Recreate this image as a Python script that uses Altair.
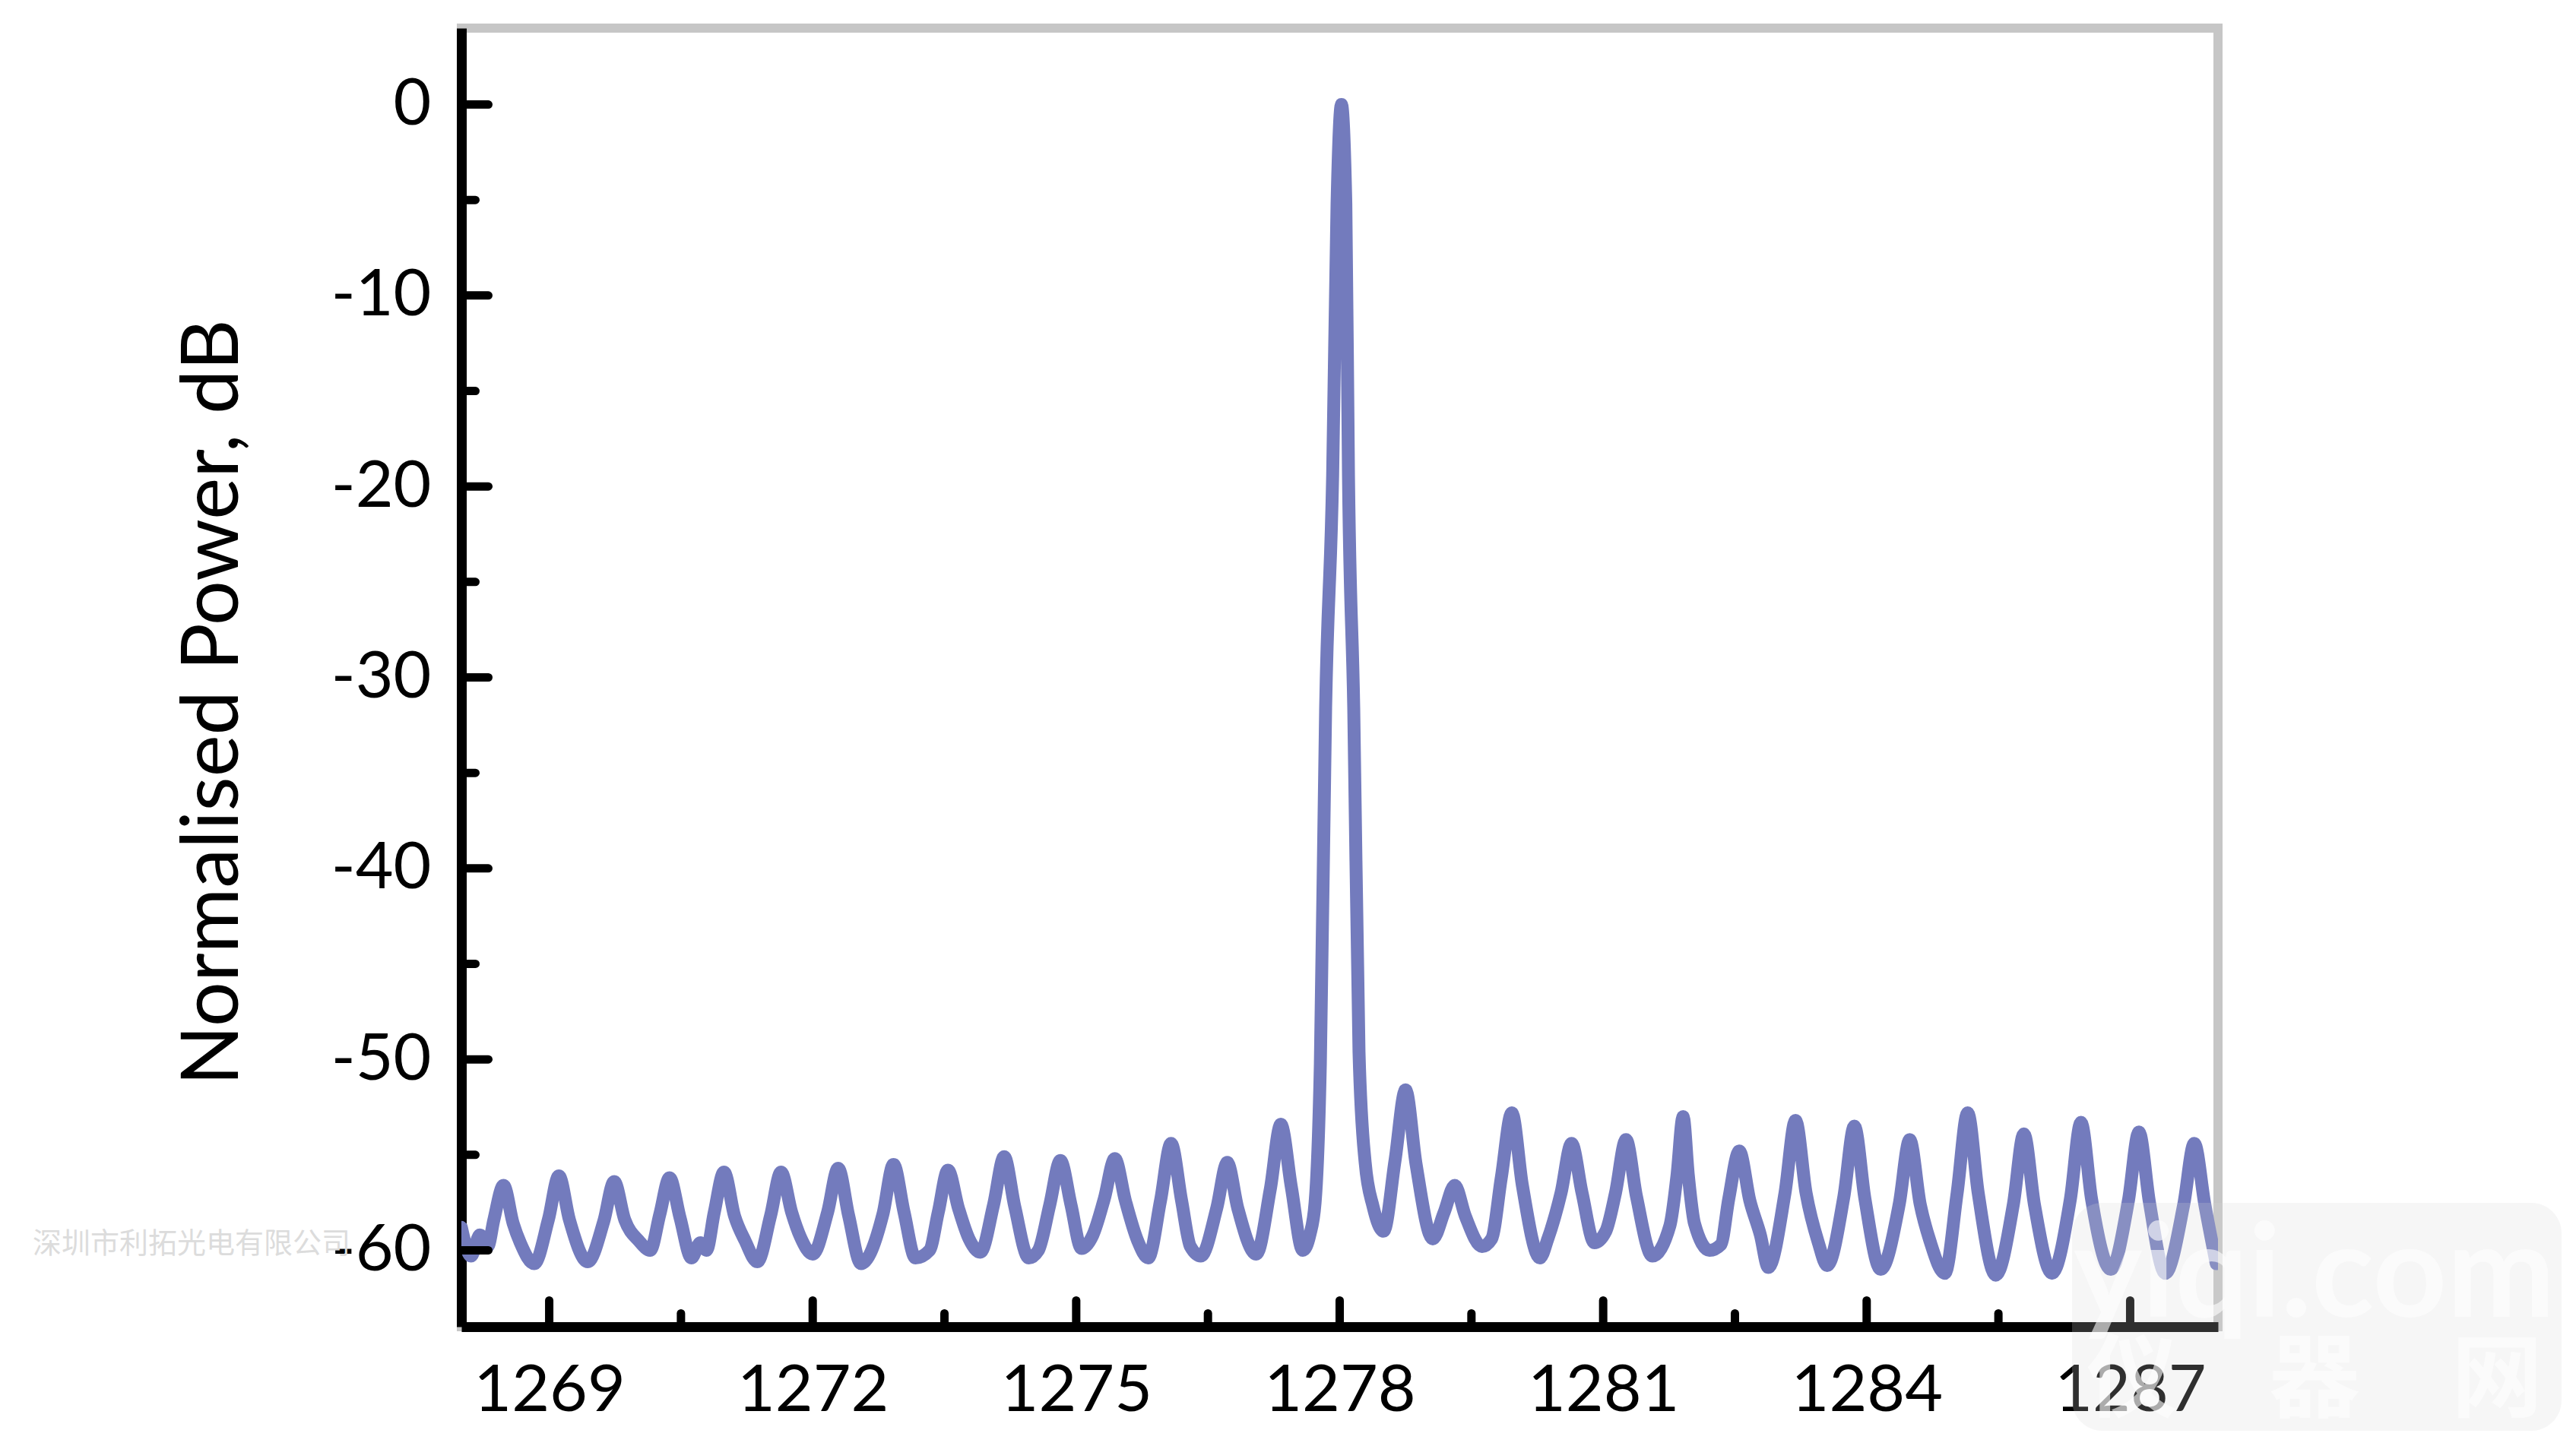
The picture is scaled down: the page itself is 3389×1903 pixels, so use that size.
import altair as alt
import pandas as pd

# ---------------- data ----------------
wavelength = [
    1268.00, 1268.11, 1268.21, 1268.30, 1268.37, 1268.48, 1268.59, 1268.67, 1268.83,
    1268.99, 1269.11, 1269.23, 1269.44, 1269.62, 1269.74, 1269.86, 1270.02, 1270.15,
    1270.26, 1270.37, 1270.49, 1270.62, 1270.72, 1270.79, 1270.88, 1270.99, 1271.11,
    1271.23, 1271.37, 1271.52, 1271.64, 1271.76, 1271.86, 1272.00, 1272.17, 1272.29,
    1272.41, 1272.55, 1272.80, 1272.92, 1273.04, 1273.17, 1273.33, 1273.43, 1273.54,
    1273.66, 1273.78, 1273.91, 1274.06, 1274.18, 1274.30, 1274.46, 1274.57, 1274.70,
    1274.82, 1274.94, 1275.06, 1275.19, 1275.32, 1275.44, 1275.56, 1275.70, 1275.82,
    1275.96, 1276.08, 1276.20, 1276.30, 1276.42, 1276.60, 1276.72, 1276.84, 1277.05,
    1277.21, 1277.33, 1277.45, 1277.58, 1277.66, 1277.72, 1277.78, 1277.84, 1277.92,
    1277.97, 1278.02, 1278.07, 1278.10, 1278.16, 1278.22, 1278.29, 1278.38, 1278.50,
    1278.63, 1278.75, 1278.87, 1279.06, 1279.19, 1279.31, 1279.43, 1279.62, 1279.73,
    1279.84, 1279.96, 1280.08, 1280.28, 1280.37, 1280.52, 1280.64, 1280.76, 1280.90,
    1281.03, 1281.14, 1281.26, 1281.38, 1281.56, 1281.76, 1281.84, 1281.91, 1281.97,
    1282.04, 1282.21, 1282.34, 1282.43, 1282.55, 1282.67, 1282.79, 1282.88, 1283.07,
    1283.19, 1283.31, 1283.45, 1283.55, 1283.74, 1283.86, 1283.98, 1284.16, 1284.37,
    1284.49, 1284.61, 1284.72, 1284.89, 1285.03, 1285.15, 1285.27, 1285.47, 1285.67,
    1285.79, 1285.91, 1286.11, 1286.32, 1286.44, 1286.56, 1286.78, 1286.98, 1287.10,
    1287.22, 1287.40, 1287.61, 1287.73, 1287.85, 1287.98,
]
power = [
    -58.8, -60.3, -59.2, -59.8, -58.4, -56.6, -58.6, -59.6, -60.7,
    -58.4, -56.1, -58.4, -60.6, -58.5, -56.4, -58.4, -59.5, -60.0,
    -58.1, -56.2, -58.3, -60.4, -59.6, -60.0, -58.0, -55.9, -58.2,
    -59.5, -60.6, -58.2, -55.9, -58.0, -59.3, -60.2, -58.0, -55.7,
    -58.2, -60.7, -58.1, -55.5, -58.0, -60.4, -60.0, -58.0, -55.8,
    -57.8, -59.4, -60.1, -57.6, -55.1, -57.7, -60.4, -60.0, -57.6,
    -55.3, -57.6, -59.9, -59.2, -57.3, -55.2, -57.4, -59.5, -60.4,
    -57.4, -54.4, -57.4, -59.8, -60.3, -57.8, -55.4, -57.8, -60.2,
    -56.8, -53.4, -56.7, -60.0, -59.2, -57.5, -50.2, -31.6, -19.4,
    -5.2, 0.0, -5.2, -19.4, -31.6, -49.6, -55.4, -57.7, -59.0,
    -55.3, -51.6, -55.5, -59.4, -58.0, -56.6, -58.2, -59.8, -59.4,
    -56.2, -52.8, -56.6, -60.4, -59.4, -57.0, -54.4, -57.0, -59.6,
    -59.0, -57.0, -54.2, -57.2, -60.3, -58.7, -56.1, -53.0, -56.1,
    -58.6, -60.0, -59.7, -57.3, -54.8, -57.4, -59.2, -60.9, -57.0,
    -53.2, -57.0, -59.6, -60.8, -57.2, -53.5, -57.3, -61.0, -57.6,
    -54.2, -57.6, -59.5, -61.2, -57.0, -52.8, -57.0, -61.3, -57.6,
    -53.9, -57.6, -61.2, -57.3, -53.3, -57.3, -61.0, -57.4, -53.8,
    -57.5, -61.2, -57.6, -54.4, -57.6, -60.7,
]

x_major = [1269, 1272, 1275, 1278, 1281, 1284, 1287]
x_minor = [1270.5, 1273.5, 1276.5, 1279.5, 1282.5, 1285.5]
y_major = [-60, -50, -40, -30, -20, -10, 0]
y_minor = [-55, -45, -35, -25, -15, -5]

y_title = "Normalised Power, dB"
watermark_company = "深圳市利拓光电有限公司"
watermark_site = "yiqi.com"
watermark_site_cn = "仪　器　网"

# ---------------- layout / style ----------------
W, H = 2311, 1709
LINE_COLOR = "#737bbd"
FONT = "Lato"

xs = alt.Scale(domain=[1268, 1288], nice=False, zero=False)
ys = alt.Scale(domain=[-64, 4], nice=False, zero=False)

x_axis = alt.Axis(
    values=x_major, title=None, grid=False, ticks=False,
    labelFont=FONT, labelFontSize=86, labelColor="black", labelLimit=0,
    labelPadding=42, labelFlush=False, labelOverlap=False,
    domainColor="black", domainWidth=13, format="d",
)
y_axis = alt.Axis(
    values=y_major, title=y_title, grid=False, ticks=False,
    labelFont=FONT, labelFontSize=86, labelColor="black", labelLimit=0,
    labelPadding=40, labelFlush=False, labelOverlap=False,
    labelExpr="'' + datum.value",
    domainColor="black", domainWidth=13,
    titleFont=FONT, titleFontSize=104, titleFontWeight="normal", titleLimit=0,
    titleColor="black", titleAngle=270, titleAlign="center",
    titleBaseline="middle", titleX=-326, titleY=887,
)

df = pd.DataFrame({"wavelength": wavelength, "power": power})

line = alt.Chart(df).mark_line(
    color=LINE_COLOR, strokeWidth=17, interpolate="monotone",
    strokeCap="round", strokeJoin="round", clip=True,
).encode(
    x=alt.X("wavelength:Q", scale=xs, axis=x_axis, title=None),
    y=alt.Y("power:Q", scale=ys, axis=y_axis, title=y_title),
)

def xticks(vals, length):
    return alt.Chart(pd.DataFrame({"wavelength": vals})).mark_rule(
        color="black", strokeWidth=11, strokeCap="round"
    ).encode(
        x=alt.X("wavelength:Q", scale=xs, axis=x_axis, title=None),
        y=alt.value(H - length + 5.5),
        y2=alt.value(H),
    )

def yticks(vals, length):
    return alt.Chart(pd.DataFrame({"power": vals})).mark_rule(
        color="black", strokeWidth=11, strokeCap="round"
    ).encode(
        y=alt.Y("power:Q", scale=ys, axis=y_axis, title=y_title),
        x=alt.value(0),
        x2=alt.value(length - 5.5),
    )

ticks = [xticks(x_major, 40), xticks(x_minor, 23), yticks(y_major, 41), yticks(y_minor, 24)]

company = alt.Chart(pd.DataFrame({"t": [watermark_company]})).mark_text(
    font="Noto Sans CJK SC", fontSize=38, color="#dcdcdc", align="center", baseline="middle",
).encode(text="t:N", x=alt.value(-355), y=alt.value(1601))

wm_box = alt.Chart(pd.DataFrame({"t": [watermark_site]})).mark_rect(
    color="#d4d4d4", opacity=0.22, cornerRadius=40,
).encode(x=alt.value(2119), x2=alt.value(2763), y=alt.value(1546), y2=alt.value(1846))

wm_site = alt.Chart(pd.DataFrame({"t": [watermark_site]})).mark_text(
    font=FONT, fontSize=170, fontWeight="bold", color="white", opacity=0.6,
    align="center", baseline="alphabetic",
).encode(text="t:N", x=alt.value(2438), y=alt.value(1696))

wm_cn = alt.Chart(pd.DataFrame({"t": [watermark_site_cn]})).mark_text(
    font="Noto Sans CJK SC", fontSize=120, fontWeight="bold", color="white", opacity=0.6,
    align="center", baseline="middle",
).encode(text="t:N", x=alt.value(2438), y=alt.value(1783))

chart = alt.layer(line, *ticks, company, wm_box, wm_site, wm_cn).properties(
    width=W, height=H,
    padding={"left": 599, "top": 29, "right": 462, "bottom": 150},
    autosize=alt.AutoSizeParams(type="none"),
    background="white",
).configure_view(
    stroke="#c6c6c6", strokeWidth=12,
)

chart.save("out.html", embed_options={"renderer": "svg", "actions": False})
